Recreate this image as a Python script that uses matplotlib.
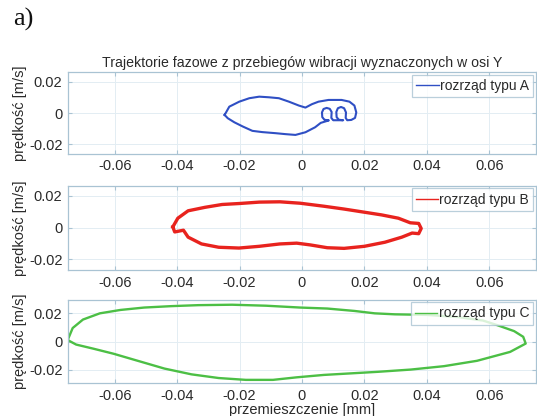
import matplotlib
matplotlib.use("Agg")
import matplotlib.pyplot as plt

plt.rcParams['font.family'] = ['Liberation Sans', 'DejaVu Sans']

# Trajectory A (blue) - displacement [mm], velocity [m/s]
a_x = [-0.0248, -0.0233, -0.0201, -0.0169, -0.0137, -0.0106, -0.0074, -0.0042, -0.0010, 0.0011,
       0.0032, 0.0053, 0.0085, 0.0127, 0.0152, 0.0168, 0.0174, 0.0170, 0.0158, 0.0145,
       0.0140, 0.0141, 0.0135, 0.0125, 0.0115, 0.0110, 0.0111, 0.0118, 0.0132, 0.0100,
       0.0094, 0.0095, 0.0089, 0.0079, 0.0069, 0.0064, 0.0065, 0.0072, 0.0086, 0.0060,
       0.0042, 0.0011, -0.0021, -0.0053, -0.0084, -0.0127, -0.0159, -0.0190, -0.0217, -0.0238, -0.0248]
a_v = [-0.0011, 0.0042, 0.0074, 0.0096, 0.0106, 0.0102, 0.0096, 0.0074, 0.0049, 0.0036,
       0.0058, 0.0074, 0.0085, 0.0085, 0.0074, 0.0049, 0.0005, -0.0030, -0.0043, -0.0045,
       -0.0030, 0.0005, 0.0032, 0.0040, 0.0032, 0.0008, -0.0025, -0.0042, -0.0045, -0.0045,
       -0.0030, 0.0008, 0.0028, 0.0034, 0.0027, 0.0005, -0.0025, -0.0042, -0.0046, -0.0062,
       -0.0090, -0.0122, -0.0139, -0.0134, -0.0128, -0.0121, -0.0113, -0.0085, -0.0058, -0.0032, -0.0011]

# Trajectory B (red)
b_x = [-0.0414, -0.0398, -0.0365, -0.0311, -0.0256, -0.0202, -0.0137, -0.0071, -0.0006, 0.0070,
       0.0135, 0.0200, 0.0255, 0.0309, 0.0347, 0.0374, 0.0382, 0.0374, 0.0353, 0.0320,
       0.0266, 0.0200, 0.0135, 0.0081, 0.0026, -0.0017, -0.0071, -0.0137, -0.0202, -0.0267,
       -0.0322, -0.0365, -0.0380, -0.0408, -0.0414]
b_v = [0.0004, 0.0059, 0.0106, 0.0128, 0.0146, 0.0152, 0.0161, 0.0163, 0.0154, 0.0135,
       0.0117, 0.0097, 0.0080, 0.0059, 0.0030, 0.0026, -0.0006, -0.0039, -0.0035, -0.0061,
       -0.0093, -0.0119, -0.0132, -0.0128, -0.0110, -0.0099, -0.0104, -0.0119, -0.0130, -0.0125,
       -0.0104, -0.0061, -0.0017, -0.0028, 0.0004]

# Trajectory C (green)
c_x = [-0.0751, -0.0735, -0.0702, -0.0648, -0.0582, -0.0506, -0.0419, -0.0332, -0.0224, -0.0115,
       -0.0006, 0.0081, 0.0168, 0.0233, 0.0298, 0.0400, 0.0500, 0.0580, 0.0625, 0.0680, 0.0709, 0.0717,
       0.0667, 0.0561, 0.0455, 0.0349, 0.0243, 0.0070, -0.0017, -0.0093, -0.0180, -0.0267,
       -0.0354, -0.0441, -0.0528, -0.0604, -0.0669, -0.0724, -0.0751]
c_v = [0.0012, 0.0097, 0.0157, 0.0201, 0.0225, 0.0242, 0.0252, 0.0259, 0.0262, 0.0255,
       0.0242, 0.0235, 0.0218, 0.0201, 0.0194, 0.0190, 0.0175, 0.0150, 0.0118, 0.0075, 0.0035, -0.0013,
       -0.0072, -0.0135, -0.0173, -0.0197, -0.0213, -0.0235, -0.0252, -0.0270, -0.0270, -0.0257,
       -0.0231, -0.0190, -0.0134, -0.0085, -0.0049, -0.0020, 0.0012]

labels = ['rozrząd typu A', 'rozrząd typu B', 'rozrząd typu C']
colors = ['#2f4fc4', '#e8231e', '#4cbf45']
widths = [1.5, 2.4, 1.7]
ylims = [(-0.0258, 0.0262), (-0.0271, 0.0265), (-0.0295, 0.0299)]
xticks = [-0.06, -0.04, -0.02, 0, 0.02, 0.04, 0.06]
xticklabels = ['-0.06', '-0.04', '-0.02', '0', '0.02', '0.04', '0.06']
yticks = [-0.02, 0, 0.02]
yticklabels = ['-0.02', '0', '0.02']

W, H = 537, 416
fig = plt.figure(figsize=(W / 100, H / 100), dpi=100)
fig.patch.set_facecolor('white')

boxes = [(72.3, 153.5), (185.7, 270.3), (299.5, 383.4)]
left_px, right_px = 68, 536
spine_col = '#a9c3d3'
grid_col = '#e3edf3'
text_col = '#2a2a2a'

data = [(a_x, a_v), (b_x, b_v), (c_x, c_v)]
axes = []
for i, ((top, bot), (xs, vs)) in enumerate(zip(boxes, data)):
    ax = fig.add_axes([left_px / W, 1 - bot / H, (right_px - left_px) / W, (bot - top) / H])
    ax.plot(xs, vs, color=colors[i], lw=widths[i], label=labels[i], solid_joinstyle='round')
    ax.set_xlim(-0.075, 0.075)
    ax.set_ylim(*ylims[i])
    ax.set_xticks(xticks)
    ax.set_xticklabels(xticklabels)
    ax.set_yticks(yticks)
    ax.set_yticklabels(yticklabels)
    ax.grid(True, color=grid_col, lw=0.7)
    ax.set_axisbelow(True)
    for s in ax.spines.values():
        s.set_color(spine_col)
        s.set_linewidth(0.9)
    ax.tick_params(direction='in', length=3, width=0.8, color=spine_col,
                   top=True, right=True, labelsize=10.5, labelcolor=text_col, pad=4)
    ax.set_ylabel('prędkość [m/s]', fontsize=10.5, color=text_col)
    ax.yaxis.set_label_coords((27 - left_px) / (right_px - left_px), 0.5)
    leg = ax.legend(loc='upper right', fontsize=10, frameon=True, fancybox=False,
                    borderaxespad=0.2, handlelength=1.6, handletextpad=0.1,
                    borderpad=0.3, labelcolor=text_col)
    leg.get_frame().set_edgecolor(spine_col)
    leg.get_frame().set_linewidth(0.9)
    for ln in leg.get_lines():
        ln.set_linewidth(1.0)
    axes.append(ax)

axes[0].set_title('Trajektorie fazowe z przebiegów wibracji wyznaczonych w osi Y',
                  fontsize=10.2, color=text_col, pad=4)
axes[2].set_xlabel('przemieszczenie [mm]', fontsize=10.5, color=text_col, labelpad=0)

fig.text(0.025, 0.982, 'a)', fontsize=19, family=['Liberation Serif'], va='top', ha='left', color='#111111')

fig.savefig('out.png', dpi=100, facecolor='white')
